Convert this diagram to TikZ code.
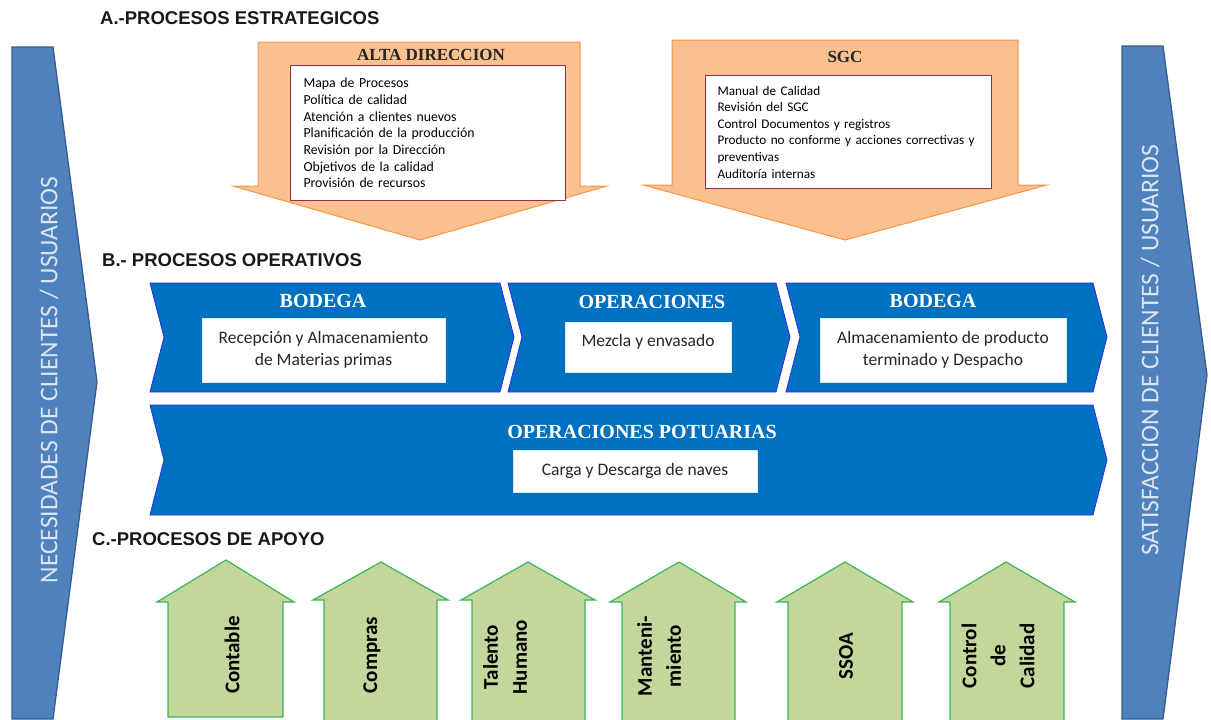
\documentclass[tikz,border=0pt]{standalone}
\usepackage{fontspec}
\setmainfont{Carlito}
\newfontfamily\headfont{Liberation Sans}
\newfontfamily\titlefont{Liberation Serif}
\usepackage{xcolor}
\usepackage{tikz}
\usetikzlibrary{positioning}
\definecolor{sideblue}{HTML}{4F81BD}
\definecolor{sideline}{HTML}{385D8A}
\definecolor{sidetext}{HTML}{DCE6F2}
\definecolor{stratfill}{HTML}{FAC090}
\definecolor{stratline}{HTML}{F79646}
\definecolor{listline}{HTML}{9B2D4B}
\definecolor{opfill}{HTML}{0070C0}
\definecolor{opline}{HTML}{2B2BF0}
\definecolor{supfill}{HTML}{C3D69B}
\definecolor{supline}{HTML}{3CB55A}
\tikzset{
  sidearrow/.style={draw=sideline, fill=sideblue, line width=1.3pt},
  sidelabel/.style={rotate=90, text=sidetext, inner sep=0pt, font=\fontsize{25.5}{30}\selectfont},
  heading/.style={anchor=west, inner sep=0pt, text=black!90, font=\headfont\bfseries\fontsize{18.5}{22}\selectfont},
  strat/.style={draw=stratline, fill=stratfill, line width=1pt},
  strattitle/.style={inner sep=0pt, text=black!85, font=\titlefont\bfseries\fontsize{17}{20}\selectfont},
  listbox/.style={draw=listline, fill=white, line width=1pt, anchor=north west, align=left, inner xsep=13pt, font=\fontsize{13.8}{16.7}\selectfont},
  chevron/.style={draw=opline, fill=opfill, line width=0.8pt},
  optitle/.style={inner sep=0pt, text=white, font=\titlefont\bfseries\fontsize{20}{24}\selectfont},
  opbox/.style={fill=white, draw=white!85!opfill, align=center, text=black!85, font=\fontsize{17.5}{22}\selectfont},
  support/.style={draw=supline, fill=supfill, line width=1.2pt},
  suplabel/.style={rotate=90, align=center, inner sep=0pt, font=\bfseries\fontsize{21}{29}\selectfont}
}

\begin{document}
\begin{tikzpicture}[x=1pt, y=-1pt]
    \useasboundingbox (0,0) rectangle (1211,720);

    \draw[sidearrow] (12,47) -- (53,47) -- (97,382) -- (53,719) -- (12,719) -- cycle;
    \draw[sidearrow] (1122,46) -- (1163,46) -- (1207,375) -- (1163,719) -- (1122,719) -- cycle;
    \node[sidelabel] (needs) at (49,380) {NECESIDADES DE CLIENTES / USUARIOS};
    \node[sidelabel] (satisf) at (1150,350) {SATISFACCION DE CLIENTES / USUARIOS};

    \node[heading] (headA) at (100,18) {A.-PROCESOS ESTRATEGICOS};
    \node[heading] (headB) at (102,260) {B.- PROCESOS OPERATIVOS};
    \node[heading] (headC) at (92,539) {C.-PROCESOS DE APOYO};

    \draw[strat] (258,42) -- (580,42) -- (580,186) -- (607,186) -- (420,240) -- (233,186) -- (258,186) -- cycle;
    \draw[strat] (672,40) -- (1018,40) -- (1018,185) -- (1047,185) -- (845,240) -- (643,185) -- (672,185) -- cycle;
    \node[strattitle] (alta) at (431,55) {ALTA DIRECCION};
    \node[strattitle] (sgc) at (845,57) {SGC};
    \node[listbox, text width=249pt, minimum height=135pt] (altalist) at (290,65) {Mapa de Procesos\\Política de calidad\\Atención a clientes nuevos\\Planificación de la producción\\Revisión por la Dirección\\Objetivos de la calidad\\Provisión de recursos};
    \node[listbox, text width=262pt, inner xsep=12pt, minimum height=113pt, font=\fontsize{13.2}{16.6}\selectfont] (sgclist) at (705,75) {Manual de Calidad\\Revisión del SGC\\Control Documentos y registros\\Producto no conforme y acciones correctivas y\\preventivas\\Auditoría internas};

    \draw[chevron] (150,283) -- (500,283) -- (514,337) -- (500,392) -- (150,392) -- (164,337) -- cycle;
    \draw[chevron] (508,283) -- (776,283) -- (790,337) -- (776,392) -- (508,392) -- (522,337) -- cycle;
    \draw[chevron] (786,283) -- (1093,283) -- (1107,337) -- (1093,392) -- (786,392) -- (800,337) -- cycle;
    \draw[chevron] (150,405) -- (1093,405) -- (1107,460) -- (1093,515) -- (150,515) -- (164,460) -- cycle;

    \node[optitle] (bodega1) at (323,301) {BODEGA};
    \node[optitle] (operac) at (652,302) {OPERACIONES};
    \node[optitle] (bodega2) at (933,301) {BODEGA};
    \node[optitle] (portuaria) at (642,432) {OPERACIONES POTUARIAS};
    \node[opbox, minimum width=243pt, minimum height=64pt] (recep) at (323.5,350) {Recepción y Almacenamiento\\de Materias primas};
    \node[opbox, minimum width=166pt, minimum height=50pt, text depth=14pt] (mezcla) at (648,347) {Mezcla y envasado};
    \node[opbox, minimum width=246pt, minimum height=64pt] (despacho) at (943,350) {Almacenamiento de producto\\terminado y Despacho};
    \node[opbox, minimum width=244pt, minimum height=42pt] (naves) at (635,471) {Carga y Descarga de naves};

    \draw[support] (168,717) -- (168,602) -- (157,602) -- (226,560) -- (294,602) -- (283,602) -- (283,717) -- cycle;
    \draw[support] (324,722) -- (324,600) -- (313,600) -- (381,562) -- (448,600) -- (437,600) -- (437,722) -- cycle;
    \draw[support] (472,722) -- (472,600) -- (461,600) -- (528,562) -- (595,600) -- (585,600) -- (585,722) -- cycle;
    \draw[support] (622,722) -- (622,602) -- (610,602) -- (679,562) -- (746,602) -- (735,602) -- (735,722) -- cycle;
    \draw[support] (788,722) -- (788,602) -- (777,602) -- (845,562) -- (913,602) -- (902,602) -- (902,722) -- cycle;
    \draw[support] (950,722) -- (950,602) -- (939,602) -- (1006,562) -- (1075,602) -- (1064,602) -- (1064,722) -- cycle;
    \node[suplabel] (contable) at (232,655) {Contable};
    \node[suplabel] (compras) at (372,655) {Compras};
    \node[suplabel] (talento) at (505,657) {Talento\\Humano};
    \node[suplabel] (manten) at (659,656) {Manteni-\\miento};
    \node[suplabel] (ssoa) at (846,656) {SSOA};
    \node[suplabel] (control) at (998,656) {Control\\de\\Calidad};
\end{tikzpicture}
\end{document}
